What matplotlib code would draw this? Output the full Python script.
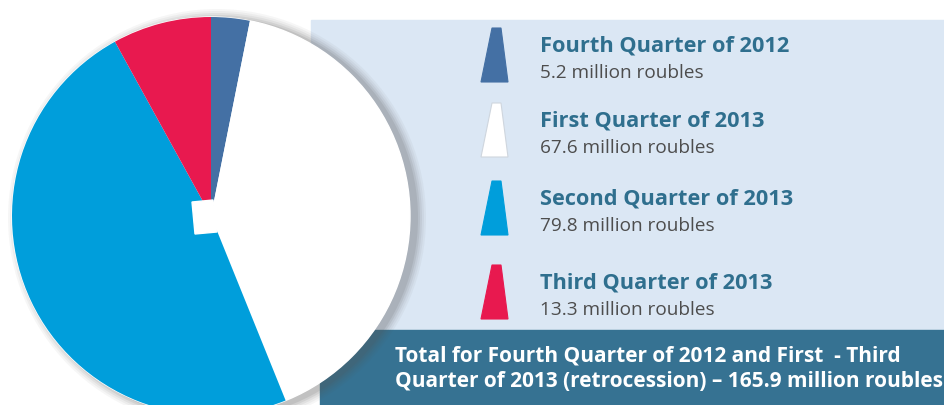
import matplotlib.pyplot as plt
from matplotlib.patches import Rectangle, Polygon, Circle

# data
quarters = ["Fourth Quarter of 2012", "First Quarter of 2013",
            "Second Quarter of 2013", "Third Quarter of 2013"]
values = [5.2, 67.6, 79.8, 13.3]
value_labels = ["5.2 million roubles", "67.6 million roubles",
                "79.8 million roubles", "13.3 million roubles"]
colors = ["#4470a4", "#ffffff", "#009edb", "#e8194f"]
total_text = ("Total for Fourth Quarter of 2012 and First  - Third\n"
              "Quarter of 2013 (retrocession) \u2013 165.9 million roubles")

W, H = 944, 405
fig = plt.figure(figsize=(W / 100, H / 100), dpi=100)
ax = fig.add_axes([0, 0, 1, 1])

# background panels
ax.add_patch(Rectangle((311, H - 330), W - 311, 310, color="#dbe7f4", zorder=0))
ax.add_patch(Rectangle((320, 0), W - 320, H - 330, color="#367292", zorder=0))

# pie with soft shadow
cx, cy, r = 211, H - 216, 199
for i, a in enumerate([0.05, 0.06, 0.08, 0.10, 0.12]):
    ax.add_patch(Circle((cx + 6, cy - 2), r + 10 - 2 * i, color="#555555",
                        alpha=a, lw=0, zorder=1))
ax.add_patch(Circle((cx, cy), r, color="white", zorder=2))
wedges, _ = ax.pie(values, colors=colors, startangle=90, counterclock=False,
                   center=(cx, cy), radius=r, frame=True,
                   wedgeprops=dict(linewidth=0))
for w in wedges:
    w.set_zorder(3)
# small notch at the centre
ax.add_patch(Polygon([(cx - 19, cy + 14), (cx + 2, cy + 16), (cx + 6, cy - 16),
                      (cx - 16, cy - 18)], closed=True, color="white", zorder=4))
ax.set_xlim(0, W)
ax.set_ylim(0, H)
ax.set_aspect("auto")
ax.axis("off")

# legend
row_top = [28, 103, 181, 265]
for i, (q, v, c) in enumerate(zip(quarters, value_labels, colors)):
    top = H - row_top[i]
    bot = top - 54
    edge = "#cfd6de" if c == "#ffffff" else c
    ax.add_patch(Polygon([(481, bot), (508, bot), (501, top), (492, top)],
                         closed=True, facecolor=c, edgecolor=edge, lw=0.8, zorder=2))
    ax.text(540, top - 18, q, fontsize=15.7, fontweight="bold", color="#2f6f8e",
            family="Open Sans", va="center", ha="left")
    ax.text(540, top - 45, v, fontsize=13.7, color="#4d4d4d",
            family="Open Sans", va="center", ha="left")

ax.text(395, H - 369, total_text, fontsize=15, fontweight="bold", color="white",
        family="Open Sans", va="center", ha="left", linespacing=1.3, zorder=5)

plt.savefig("out.png", dpi=100)
